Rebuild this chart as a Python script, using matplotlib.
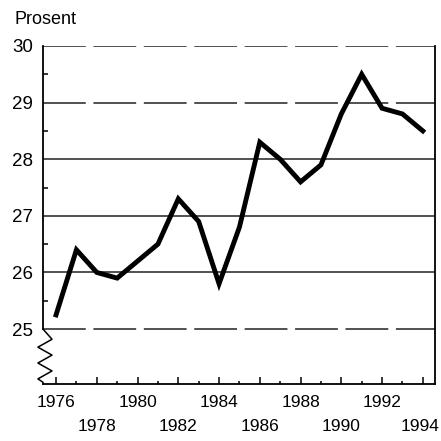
import numpy as np
import matplotlib.pyplot as plt
import matplotlib.transforms as mtransforms
from matplotlib.ticker import MultipleLocator, FixedLocator

plt.rcParams['font.family'] = ['Liberation Sans', 'DejaVu Sans']

years = np.arange(1976, 1995)
share = [25.25, 26.4, 26.0, 25.9, 26.2, 26.5, 27.3, 26.9, 25.8, 26.8,
         28.3, 28.0, 27.6, 27.9, 28.8, 29.5, 28.9, 28.8, 28.5]

grid_levels = [25, 26, 27, 28, 29, 30]
grid_dashed = [True, False, False, False, True, True]
label_years = list(range(1976, 1995, 2))

fig = plt.figure(figsize=(4.41, 4.41), dpi=100)
ax = fig.add_axes([0.0975, 0.1293, 0.889, 0.7664])

# horizontal grid lines (some appear broken in the original)
for lvl, dashed in zip(grid_levels, grid_dashed):
    if dashed:
        ax.axhline(lvl, color='#222222', lw=1.1, dashes=(28, 5), zorder=1)
    else:
        ax.axhline(lvl, color='#222222', lw=1.1, zorder=1)

ax.plot(years, share, color='black', lw=3.5, solid_joinstyle='miter', zorder=3)

ax.set_xlim(1975.36, 1994.6)
ax.set_ylim(24.03, 30)

# spines
ax.spines['top'].set_visible(False)
ax.spines['left'].set_bounds(25, 30)
for s in ['left', 'right', 'bottom']:
    ax.spines[s].set_linewidth(1.3)

# zigzag axis break under 25
zx = [0, 0.023, -0.013, 0.023, -0.013, 0.023, -0.013, 0.0, 0.0]
zy = [25, 24.82, 24.68, 24.54, 24.40, 24.26, 24.12, 24.06, 24.03]
ax.plot(zx, zy, color='black', lw=1.1, clip_on=False,
        transform=ax.get_yaxis_transform(), zorder=4)

# ticks
ax.yaxis.set_major_locator(FixedLocator(grid_levels))
ax.yaxis.set_minor_locator(FixedLocator([25.5, 26.5, 27.5, 28.5, 29.5]))
ax.tick_params(axis='y', which='major', direction='in', length=0, pad=7, labelsize=13.5)
ax.tick_params(axis='y', which='minor', direction='in', length=3.5, width=1.1)

ax.xaxis.set_major_locator(FixedLocator(label_years))
ax.xaxis.set_minor_locator(MultipleLocator(1))
ax.set_xticklabels([str(y) if i % 2 == 0 else '\n' + str(y)
                    for i, y in enumerate(label_years)], linespacing=1.75)
ax.tick_params(axis='x', which='major', direction='in', length=5, width=1.1,
               pad=8, labelsize=12.5)
ax.tick_params(axis='x', which='minor', direction='in', length=2, width=1.1)

# nudge the last year label so it stays inside the figure
last = ax.get_xticklabels()[-1]
last.set_transform(last.get_transform() +
                   mtransforms.ScaledTranslation(-3 / 100, 0, fig.dpi_scale_trans))

fig.text(0.032, 0.955, 'Prosent', fontsize=13, ha='left', va='center')

fig.savefig('out.png', dpi=100)
